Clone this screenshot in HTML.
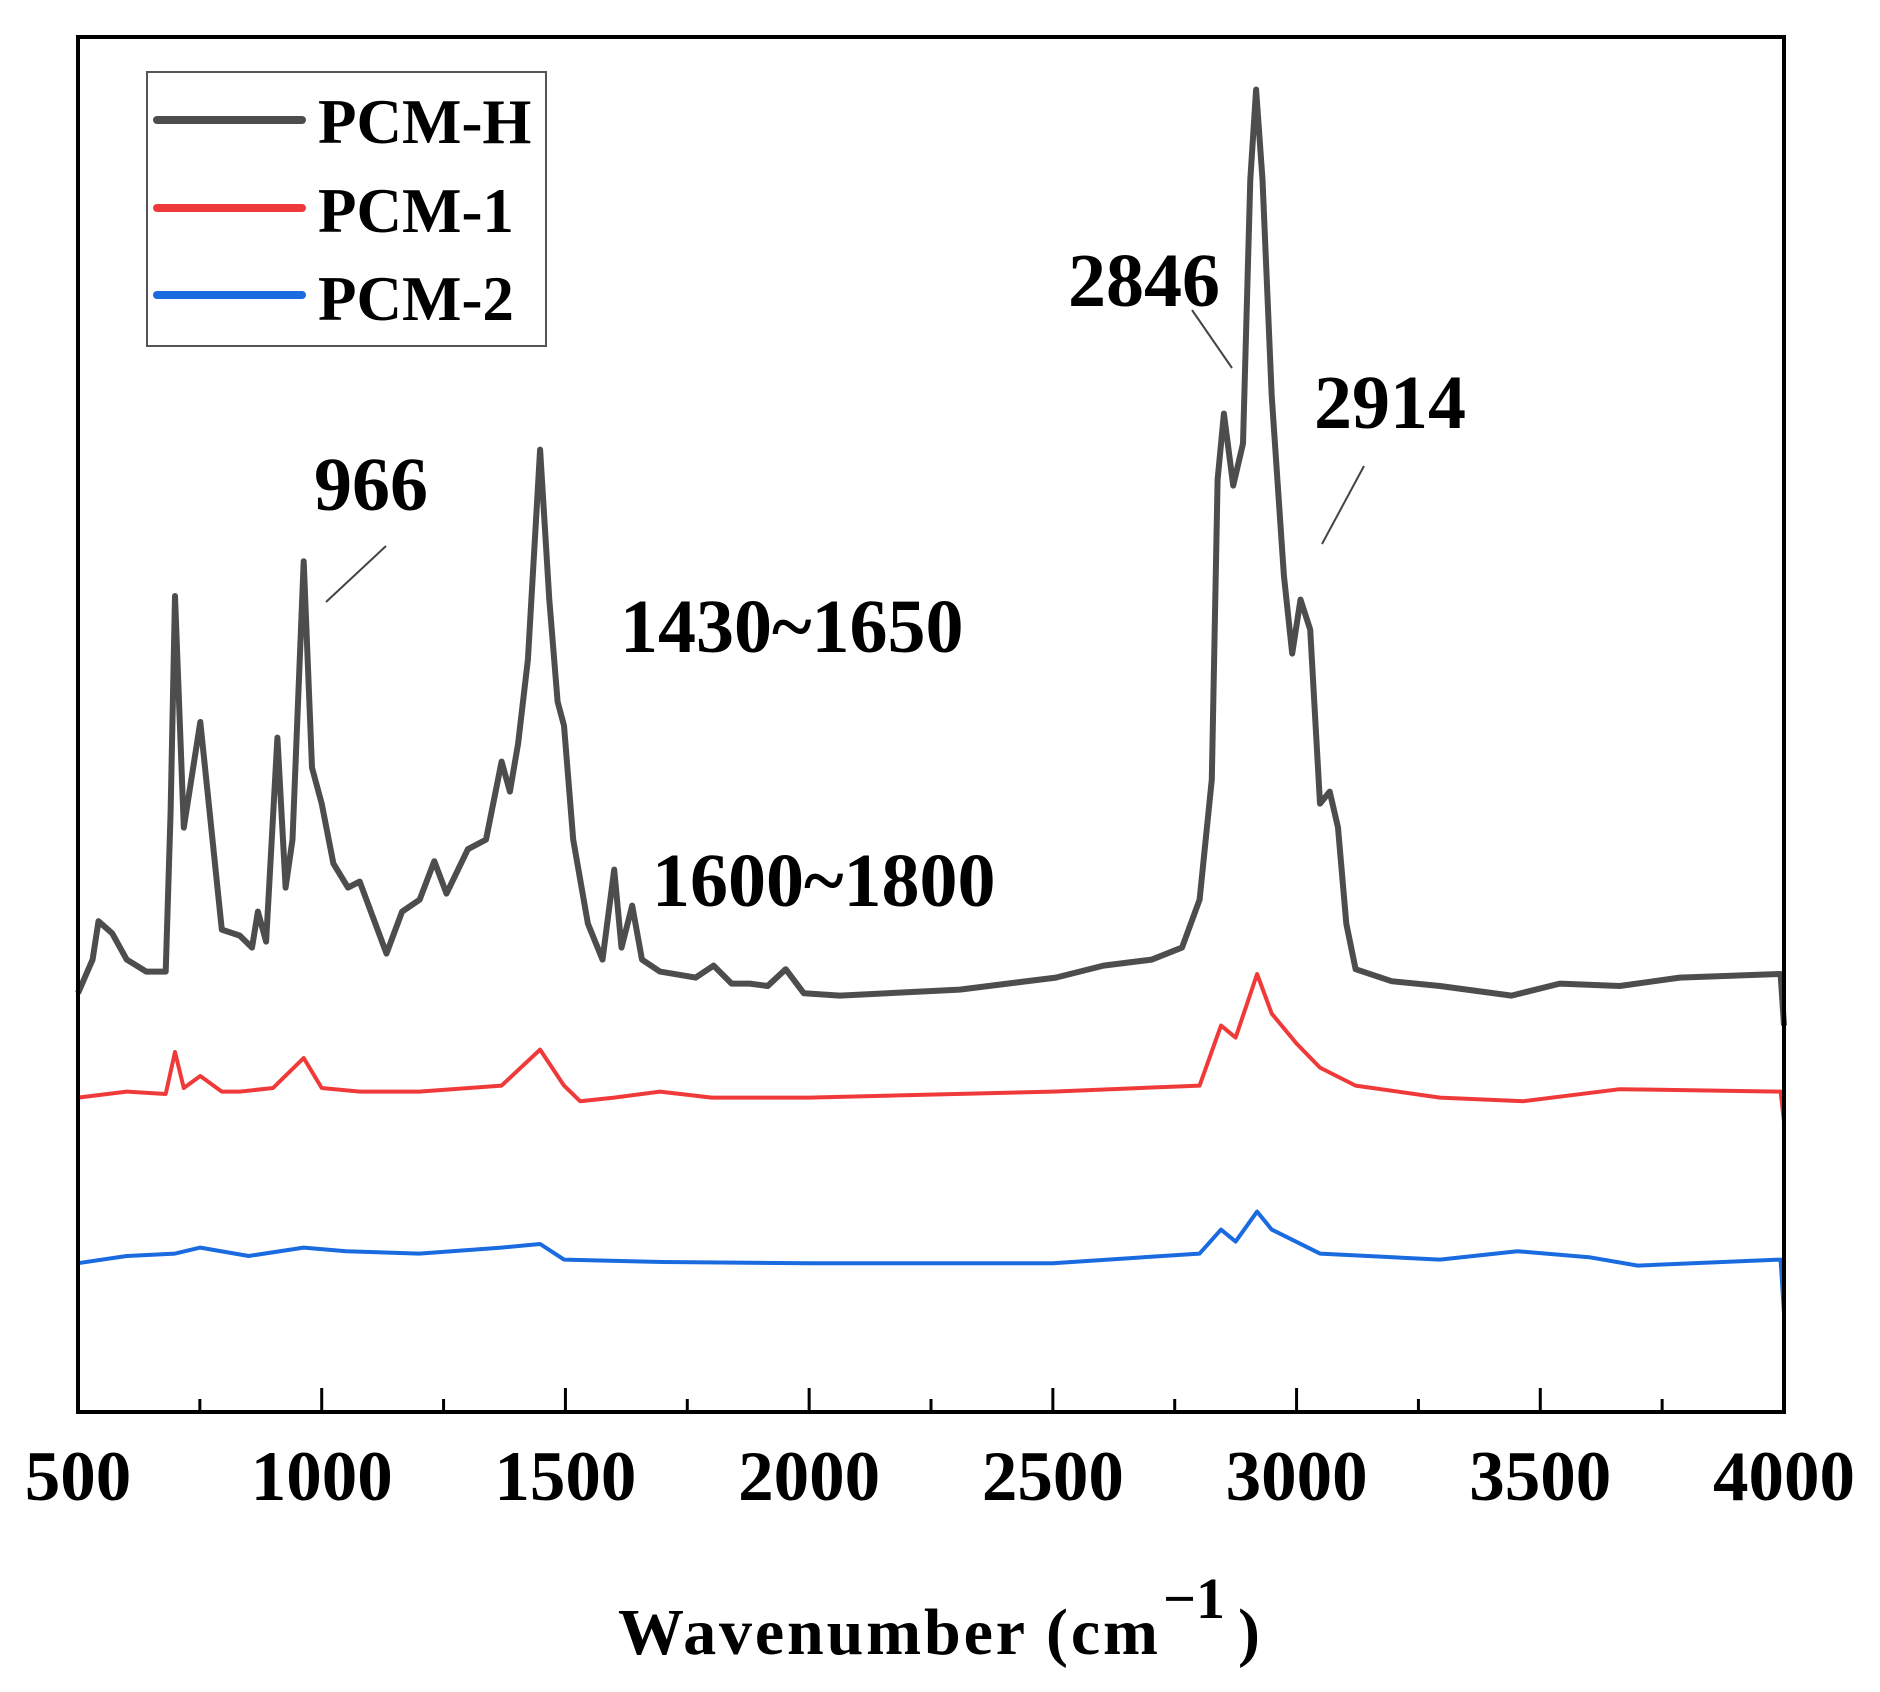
<!DOCTYPE html>
<html><head><meta charset="utf-8"><style>
html,body{margin:0;padding:0;background:#fff;}
svg{display:block;}
text{font-family:"Liberation Serif",serif;font-weight:bold;fill:#000;}
</style></head><body>
<svg id="chart" width="1880" height="1692" viewBox="0 0 1880 1692" xmlns="http://www.w3.org/2000/svg">
<g id="plot"></g>
<g id="axes"></g>
<g id="legend">
  <rect x="147" y="72" width="399" height="274" fill="#fff" stroke="#555" stroke-width="2"/>
  <line x1="157" y1="120" x2="302" y2="120" stroke="#4d4d4d" stroke-width="8" stroke-linecap="round"/>
  <text x="318" y="143" font-size="63">PCM-H</text>
  <line x1="157" y1="208" x2="302" y2="208" stroke="#f03a3a" stroke-width="8" stroke-linecap="round"/>
  <text x="318" y="232" font-size="63">PCM-1</text>
  <line x1="157" y1="295" x2="302" y2="295" stroke="#1a6ae0" stroke-width="8" stroke-linecap="round"/>
  <text x="318" y="320" font-size="63">PCM-2</text>
</g>
<g id="annotations">
  <text x="314" y="510" font-size="76">966</text>
  <line x1="326" y1="602" x2="386" y2="546" stroke="#444" stroke-width="2"/>
  <text x="620" y="652" font-size="76">1430~1650</text>
  <text x="652" y="906" font-size="76">1600~1800</text>
  <text x="1068" y="306" font-size="76">2846</text>
  <line x1="1192" y1="310" x2="1232" y2="368" stroke="#444" stroke-width="2"/>
  <text x="1314" y="428" font-size="76">2914</text>
  <line x1="1364" y1="466" x2="1322" y2="544" stroke="#444" stroke-width="2"/>
</g>
<text x="618" y="1654" font-size="66" textLength="540" lengthAdjust="spacing">Wavenumber (cm</text>
<text x="1163" y="1618" font-size="58">−1</text>
<text x="1238" y="1654" font-size="66">)</text>
</svg>
<script>
const xTicks = [500,1000,1500,2000,2500,3000,3500,4000];
const xMinorTicks = [750,1250,1750,2250,2750,3250,3750];
const wnH = [500,530,542,570,600,640,680,690,699,717,751,795,832,857,869,886,909,926,940,963,980,1000,1024,1054,1078,1133,1165,1201,1231,1256,1300,1337,1369,1386,1403,1423,1448,1467,1484,1497,1516,1546,1576,1600,1615,1637,1657,1694,1767,1804,1841,1878,1915,1952,1989,2063,2309,2506,2604,2703,2765,2801,2826,2838,2851,2870,2890,2905,2917,2930,2949,2974,2991,3008,3028,3048,3068,3085,3102,3121,3195,3294,3441,3540,3663,3786,3993,4000];
const valH = [349,377,409,399,377,367,367,500,680,487,575,402,397,387,417,392,562,437,477,709,537,507,457,437,442,382,417,427,459,432,469,477,542,517,557,627,802,677,592,572,477,407,377,452,387,422,377,367,362,372,357,357,355,369,349,347,352,362,372,377,387,427,527,777,832,772,807,1027,1102,1027,847,697,632,677,652,507,517,487,407,369,359,355,347,357,355,362,365,322];
const wn1 = [500,600,680,699,717,751,795,832,900,963,1000,1078,1200,1369,1448,1497,1530,1600,1694,1800,2000,2500,2801,2845,2875,2919,2949,3000,3048,3121,3294,3466,3663,3993,4000];
const val1 = [262,267,265,300,270,280,267,267,270,295,270,267,267,272,302,272,259,262,267,262,262,267,272,322,312,365,332,307,287,272,262,259,269,267,242];
const wn2 = [500,600,699,751,850,963,1050,1200,1369,1448,1497,1700,2000,2500,2801,2845,2875,2919,2949,3048,3294,3453,3600,3700,3993,4000];
const val2 = [124,130,132,137,130,137,134,132,137,140,127,125,124,124,132,152,142,167,152,132,127,134,129,122,127,82];

const X0=78, X1=1784, YB=1412, YT=37;
function xScale(w){ return X0 + (w-500)/3500*(X1-X0); }
function yScale(v){ return YB - v*1.2; }
const NS="http://www.w3.org/2000/svg";
const plot=document.getElementById('plot');
const axes=document.getElementById('axes');

function drawSeries(wn, vals, color, width, name){
  const p=document.createElementNS(NS,'path');
  let d='';
  for(let i=0;i<wn.length;i++){ d+=(i?'L':'M')+xScale(wn[i]).toFixed(1)+','+yScale(vals[i]).toFixed(1); }
  p.setAttribute('d',d);
  p.setAttribute('fill','none');
  p.setAttribute('stroke',color);
  p.setAttribute('stroke-width',width);
  p.setAttribute('stroke-linejoin','round');
  
  
  plot.appendChild(p);
}
drawSeries(wn2,val2,'#1a6ae0',4,'series-pcm-2');
drawSeries(wn1,val1,'#f03a3a',4,'series-pcm-1');
drawSeries(wnH,valH,'#4d4d4d',6,'series-pcm-h');

const frame=document.createElementNS(NS,'rect');
frame.setAttribute('x',X0);frame.setAttribute('y',YT);
frame.setAttribute('width',X1-X0);frame.setAttribute('height',YB-YT);
frame.setAttribute('fill','none');frame.setAttribute('stroke','#000');frame.setAttribute('stroke-width','4');


axes.appendChild(frame);

xTicks.forEach(t=>{
  const l=document.createElementNS(NS,'line');
  l.setAttribute('x1',xScale(t));l.setAttribute('x2',xScale(t));
  l.setAttribute('y1',YB);l.setAttribute('y2',YB-24);
  l.setAttribute('stroke','#000');l.setAttribute('stroke-width','3');
  
  
  axes.appendChild(l);
  const tx=document.createElementNS(NS,'text');
  tx.setAttribute('x',xScale(t));tx.setAttribute('y',1500);
  tx.setAttribute('text-anchor','middle');tx.setAttribute('font-size','71');
  tx.textContent=t;
  
  
  axes.appendChild(tx);
});
xMinorTicks.forEach(t=>{
  const l=document.createElementNS(NS,'line');
  l.setAttribute('x1',xScale(t));l.setAttribute('x2',xScale(t));
  l.setAttribute('y1',YB);l.setAttribute('y2',YB-13);
  l.setAttribute('stroke','#000');l.setAttribute('stroke-width','3');
  
  
  axes.appendChild(l);
});
</script>
</body></html>
